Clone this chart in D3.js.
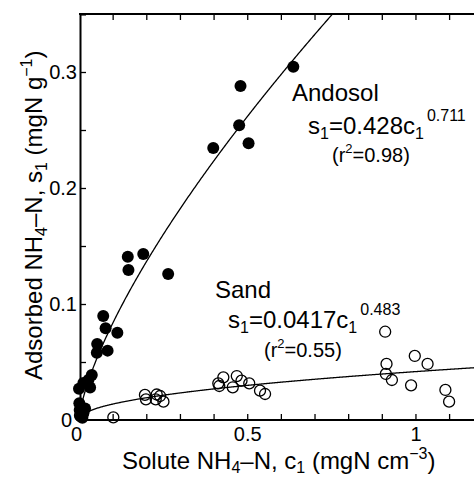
<!DOCTYPE html>
<html lang="en">
<head>
  <meta charset="UTF-8">
  <title>NH4-N adsorption isotherms</title>
  <script src="https://cdn.jsdelivr.net/npm/d3@7"></script>
  <style>
    body { margin: 0; background: #fff; }
    svg { display: block; font-family: "Liberation Sans", Arial, sans-serif; }
  </style>
</head>
<body>
  <svg width="474" height="477"></svg>
  <script>
    // Andosol (filled circles): solute c1 (mgN cm-3), adsorbed s1 (mgN g-1)
    const andosolC = [0.637, 0.480, 0.476, 0.504, 0.399, 0.145, 0.191, 0.147, 0.265,
      0.072, 0.079, 0.114, 0.054, 0.053, 0.085, 0.038, 0.028, 0.033, 0.000, 0.013,
      0.001, 0.002, 0.013, 0.018, 0.005, 0.010];
    const andosolS = [0.3046, 0.288, 0.254, 0.2385, 0.2345, 0.1408, 0.1431, 0.1293, 0.1259,
      0.0897, 0.079, 0.0753, 0.0655, 0.058, 0.0598, 0.0388, 0.0345, 0.028, 0.027, 0.032,
      0.0144, 0.0086, 0.0058, 0.010, 0.003, 0.002];

    // Sand (open circles)
    const sandC = [0.003, 0.010, 0.102, 0.196, 0.199, 0.231, 0.228, 0.241, 0.251,
      0.414, 0.417, 0.429, 0.457, 0.469, 0.483, 0.506, 0.538, 0.553,
      0.910, 0.914, 0.912, 0.930, 0.998, 1.036, 0.987, 1.089, 1.100];
    const sandS = [0.004, 0.006, 0.0023, 0.0216, 0.0178, 0.022, 0.0178, 0.0207, 0.0158,
      0.0316, 0.0293, 0.0368, 0.0282, 0.0379, 0.0339, 0.0316, 0.0253, 0.0224,
      0.0761, 0.0483, 0.0397, 0.0345, 0.0552, 0.0483, 0.0299, 0.0259, 0.0158];

    // fitted Freundlich isotherms s1 = k c1^n
    const fitNames = ['Andosol', 'Sand'];
    const fitK = [0.428, 0.0417];
    const fitN = [0.711, 0.483];
    const fitR2 = ['0.98', '0.55'];

    const xTicks = [0, 0.1, 0.2, 0.3, 0.4, 0.5, 0.6, 0.7, 0.8, 0.9, 1, 1.1];
    const xLabels = [0, 0.5, 1];
    const yTicks = [0, 0.05, 0.1, 0.15, 0.2, 0.25, 0.3, 0.35];
    const yLabels = [0, 0.1, 0.2, 0.3];

    const svg = d3.select('svg');
    const mLeft = 79, mRight = 474, mTop = 14, mBottom = 420;

    const x = d3.scaleLinear().domain([0, 1.174]).range([mLeft, mRight]);
    const y = d3.scaleLinear().domain([0, 0.35]).range([mBottom, mTop]);

    svg.append('clipPath').attr('id', 'plot')
      .append('rect').attr('x', mLeft).attr('y', mTop)
      .attr('width', mRight - mLeft).attr('height', mBottom - mTop);

    // fitted curves
    const line = d3.line().x(d => x(d[0])).y(d => y(d[1]));
    fitK.forEach((k, i) => {
      const pts = d3.range(0.002, 1.2, 0.002).map(c => [c, k * Math.pow(c, fitN[i])]);
      svg.append('path')
        .attr('clip-path', 'url(#plot)')
        .attr('d', line(pts))
        .attr('fill', 'none')
        .attr('stroke', '#000')
        .attr('stroke-width', 1.3);
    });

    // axes
    const fmt = d => (xLabels.includes(d) ? d3.format('')(d) : '');
    const xAxis = svg.append('g')
      .attr('transform', `translate(0,${mBottom})`)
      .call(d3.axisBottom(x).tickValues(xTicks).tickSize(-6).tickPadding(7).tickFormat(fmt));
    const xTop = svg.append('g')
      .attr('transform', `translate(0,${mTop})`)
      .call(d3.axisTop(x).tickValues(xTicks.slice(1)).tickSize(-6).tickFormat(''));
    const yAxis = svg.append('g')
      .attr('transform', `translate(${mLeft + 1},0)`)
      .call(d3.axisLeft(y).tickValues(yTicks).tickSize(-6).tickPadding(3)
        .tickFormat(d => (yLabels.includes(d) ? d3.format('')(d) : '')));

    [xAxis, xTop, yAxis].forEach(g => {
      g.select('.domain').attr('stroke-width', 2);
      g.selectAll('.tick line').attr('stroke-width', 1.3);
      g.selectAll('text').attr('font-size', 20).attr('font-family', 'Liberation Sans, Arial, sans-serif').attr('fill', '#000');
    });
    xAxis.select('.domain').attr('d', `M${mLeft},0H${mRight}`);
    xTop.select('.domain').attr('d', `M${mLeft},0H${mRight}`);
    xAxis.selectAll('.tick').filter(d => d === 0).select('text').attr('dx', -3);
    yAxis.selectAll('.tick').filter(d => d === 0).select('text').attr('dx', -5);

    // points
    svg.append('g').selectAll('circle')
      .data(sandC.map((c, i) => [c, sandS[i]]))
      .join('circle')
      .attr('cx', d => x(d[0])).attr('cy', d => y(d[1])).attr('r', 5.5)
      .attr('fill', 'none').attr('stroke', '#000').attr('stroke-width', 1.3);

    svg.append('g').selectAll('circle')
      .data(andosolC.map((c, i) => [c, andosolS[i]]))
      .join('circle')
      .attr('cx', d => x(d[0])).attr('cy', d => y(d[1])).attr('r', 6)
      .attr('fill', '#000');

    // annotations
    const labelPos = [[292, 101], [215, 298]];
    const eqPos = [[308, 134], [228, 328]];
    const r2Pos = [[332, 162], [264, 357]];

    fitNames.forEach((name, i) => {
      svg.append('text').attr('x', labelPos[i][0]).attr('y', labelPos[i][1])
        .attr('font-size', 24).text(name);

      const eq = svg.append('text').attr('x', eqPos[i][0]).attr('y', eqPos[i][1])
        .attr('font-size', 24);
      eq.append('tspan').text('s');
      eq.append('tspan').attr('font-size', 16).attr('dy', 5).text('1');
      eq.append('tspan').attr('dy', -5).text(`=${fitK[i]}c`);
      eq.append('tspan').attr('font-size', 16).attr('dy', 5).text('1');
      eq.append('tspan').attr('font-size', 16).attr('dx', 3).attr('dy', -18).text(fitN[i]);

      const r2 = svg.append('text').attr('x', r2Pos[i][0]).attr('y', r2Pos[i][1])
        .attr('font-size', 20);
      r2.append('tspan').text('(r');
      r2.append('tspan').attr('font-size', 13).attr('dy', -9).text('2');
      r2.append('tspan').attr('dy', 9).text(`=${fitR2[i]})`);
    });

    // axis titles
    const xt = svg.append('text').attr('x', 122).attr('y', 469).attr('font-size', 24);
    xt.append('tspan').text('Solute NH');
    xt.append('tspan').attr('font-size', 16).attr('dy', 4).text('4');
    xt.append('tspan').attr('dy', -4).text('\u2013N, c');
    xt.append('tspan').attr('font-size', 16).attr('dy', 4).text('1');
    xt.append('tspan').attr('dy', -4).text(' (mgN cm');
    xt.append('tspan').attr('font-size', 16).attr('dy', -10).text('\u22123');
    xt.append('tspan').attr('dy', 10).text(')');

    const yt = svg.append('text').attr('transform', 'translate(42,380) rotate(-90)')
      .attr('font-size', 24);
    yt.append('tspan').text('Adsorbed NH');
    yt.append('tspan').attr('font-size', 16).attr('dy', 5).text('4');
    yt.append('tspan').attr('dy', -5).text('\u2013N, s');
    yt.append('tspan').attr('font-size', 16).attr('dy', 5).text('1');
    yt.append('tspan').attr('dy', -5).text(' (mgN g');
    yt.append('tspan').attr('font-size', 16).attr('dy', -10).text('\u22121');
    yt.append('tspan').attr('dy', 10).text(')');
  </script>
</body>
</html>
